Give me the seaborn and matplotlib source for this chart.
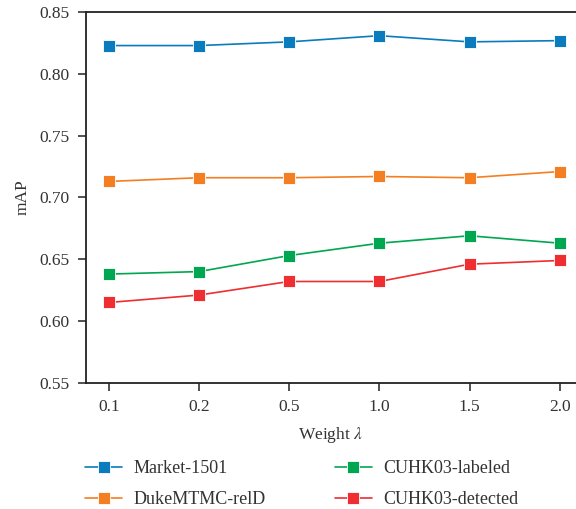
import matplotlib
matplotlib.use("Agg")
import matplotlib.pyplot as plt
import seaborn as sns
import pandas as pd

# Weight values tested and mAP per dataset
weights = ["0.1", "0.2", "0.5", "1.0", "1.5", "2.0"]
market = [0.823, 0.823, 0.826, 0.831, 0.826, 0.827]
duke = [0.713, 0.716, 0.716, 0.717, 0.716, 0.721]
cuhk_labeled = [0.638, 0.640, 0.653, 0.663, 0.669, 0.663]
cuhk_detected = [0.615, 0.621, 0.632, 0.632, 0.646, 0.649]

series = {
    "Market-1501": market,
    "DukeMTMC-relD": duke,
    "CUHK03-labeled": cuhk_labeled,
    "CUHK03-detected": cuhk_detected,
}
colors = ["#0a7bbd", "#f47f22", "#00a650", "#ee2e30"]

rows = []
for name, vals in series.items():
    for i, v in enumerate(vals):
        rows.append({"pos": i, "mAP": v, "Dataset": name})
df = pd.DataFrame(rows)

sns.set_style("ticks")
plt.rcParams["font.family"] = ["Liberation Serif", "DejaVu Serif"]
plt.rcParams["mathtext.fontset"] = "stix"

fig = plt.figure(figsize=(5.76, 5.09), dpi=100)
ax = fig.add_axes([0.149, 0.248, 0.851, 0.728])

sns.lineplot(
    data=df, x="pos", y="mAP", hue="Dataset", palette=colors,
    marker="s", markersize=8.5, markeredgecolor="white", markeredgewidth=0.6,
    linewidth=1.2, ax=ax, legend=True,
)

ax.set_xlim(-0.255, 5.18)
ax.set_ylim(0.55, 0.85)
ax.set_xticks(range(len(weights)))
ax.set_xticklabels(weights)
yticks = [0.55, 0.60, 0.65, 0.70, 0.75, 0.80, 0.85]
ax.set_yticks(yticks)
ax.set_yticklabels([f"{t:.2f}" for t in yticks])
ax.tick_params(axis="both", labelsize=12.5, colors="#222222", direction="out",
               length=6, width=1.1, pad=6)
ax.tick_params(axis="both", labelcolor="#333333")

for side in ["left", "bottom", "top"]:
    ax.spines[side].set_color("#222222")
    ax.spines[side].set_linewidth(1.3)
ax.spines["right"].set_visible(False)

ax.set_xlabel(r"Weight $\lambda$", fontsize=12.5, color="#333333", labelpad=7)
ax.set_ylabel("mAP", fontsize=12.5, color="#333333", labelpad=6)

handles, labels = ax.get_legend_handles_labels()
ax.legend(
    handles, labels, ncol=2, frameon=False, fontsize=13,
    loc="upper left", bbox_to_anchor=(-0.016, -0.19), borderaxespad=0,
    handlelength=2.05, handletextpad=0.65, columnspacing=3.8,
    labelspacing=0.75, labelcolor="#333333",
)

fig.savefig("out.png", dpi=100)
